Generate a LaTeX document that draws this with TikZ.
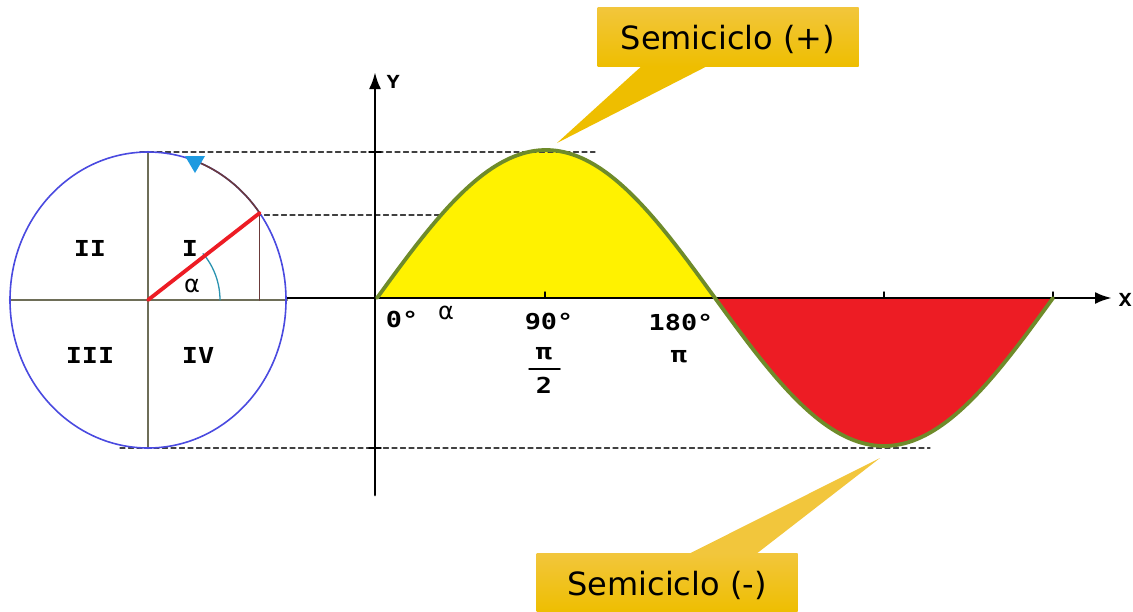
\documentclass[tikz,border=0pt]{standalone}
\usepackage{fontspec}
\setmainfont{DejaVu Sans}
\newfontfamily\monofont[FakeStretch=1.22]{DejaVu Sans Mono}
\usetikzlibrary{arrows.meta,calc,positioning}
\definecolor{semiYellow}{HTML}{FFF200}
\definecolor{semiRed}{HTML}{ED1C24}
\definecolor{waveLine}{HTML}{6E8B2A}
\definecolor{circBlue}{HTML}{4A4AE0}
\definecolor{crossLine}{HTML}{6E6E58}
\definecolor{rodBrown}{HTML}{6B3A3A}
\definecolor{angTeal}{HTML}{2A93B0}
\definecolor{tipBlue}{HTML}{1E9AE0}
\definecolor{calloutTop}{HTML}{F2C63C}
\definecolor{calloutBot}{HTML}{EEBE00}
\begin{document}
\begin{tikzpicture}[x=1pt,y=-1pt,>=Latex,line cap=round,line join=round]
\useasboundingbox[fill=white] (0,0) rectangle (1133,611);
\tikzset{axis/.style={draw=black,line width=2.8pt},guide/.style={draw=black!75,line width=1.1pt,dash pattern=on 5pt off 3.5pt},lbl/.style={font=\monofont\bfseries\fontsize{22}{22}\selectfont,inner sep=0pt},greek/.style={font=\fontsize{24}{24}\selectfont,inner sep=0pt},callout/.style={top color=calloutTop,bottom color=calloutBot,draw=none,font=\fontsize{32}{32}\selectfont,minimum width=261pt,inner ysep=0pt,minimum height=59pt,text depth=0pt}}
% filled half waves
\fill[semiYellow] (377,298) -- plot[domain=0:180,samples=80] ({377+\x*1.8778},{298-148*sin(\x)}) -- cycle;
\fill[semiRed] (715,298) -- plot[domain=180:360,samples=80] ({377+\x*1.8778},{298-148*sin(\x)}) -- cycle;
% guide lines
\draw[guide] (140,152) -- (595,152);
\draw[guide] (256,215) -- (440,215);
\draw[guide] (120,448) -- (930,448);
% axes
\draw[axis,-{Latex[length=17pt,width=12pt]}] (375,495) -- (375,72);
\draw[axis,-{Latex[length=17pt,width=12pt]}] (287,298) -- (1112,298);
\node[font=\monofont\bfseries\fontsize{18}{18}\selectfont,anchor=west] (ylab) at (383,82) {Y};
\node[font=\monofont\bfseries\fontsize{18}{18}\selectfont,anchor=west] (xlab) at (1115,300) {X};
\foreach \ty in {152,448} \draw[line width=1.4pt] (369,\ty) -- (381,\ty);
\foreach \tx in {545,884,1053} \draw[line width=1.4pt] (\tx,292) -- (\tx,298);
% sine wave
\draw[waveLine,line width=3.8pt] plot[domain=0:360,samples=160] ({377+\x*1.8778},{298-148*sin(\x)});
% axis labels
\node[lbl] (deg0) at (402,319) {0°};
\node[greek] (alpha) at (446,313) {α};
\node[lbl] (deg90) at (549,322) {90°};
\node[lbl] (deg180) at (681,322) {180°};
\node[lbl] (pinum) at (544,354) {π};
\node[lbl] (piden) at (544,385) {2};
\draw[line width=1.5pt] (529,369) -- (560,369);
\node[lbl] (pi) at (679,357) {π};
% unit circle
\coordinate (O) at (148,300);
\coordinate (P) at ($(O)+(-36:138 and 148)$);
\draw[crossLine,line width=2.6pt] (10,300) -- (287,300);
\draw[crossLine,line width=2.6pt] (148,152) -- (148,448);
\draw[circBlue,line width=1.6pt] (O) ellipse [x radius=138,y radius=148];
\draw[rodBrown,line width=1.6pt] (P) -- (P |- O);
\draw[angTeal,line width=1.3pt] ($(O)+(72,0)$) arc[start angle=0,end angle=-40,radius=72];
\draw[rodBrown,line width=1.6pt] (P) arc[start angle=-36,end angle=-70,x radius=138,y radius=148];
\fill[tipBlue] (185,156) -- (205,156) -- (195,173) -- cycle;
\draw[semiRed,line width=3.8pt] (O) -- (P);
\node[lbl] (q1) at (190,248) {I};
\node[lbl] (q2) at (90,248) {II};
\node[lbl] (q3) at (90,355) {III};
\node[lbl] (q4) at (198,355) {IV};
\node[greek] (alphaC) at (192,286) {α};
% callouts
\node[callout] (cplus) at (728,37) {Semiciclo (+)};
\node[callout] (cminus) at (667,583) {Semiciclo (-)};
\coordinate (tipplus) at (557,143);
\coordinate (tipminus) at (880,458);
\fill[calloutBot] ([xshift=-87pt]cplus.south) -- (tipplus) -- ([xshift=-22pt]cplus.south) -- cycle;
\fill[calloutTop] ([xshift=23pt]cminus.north) -- (tipminus) -- ([xshift=90pt]cminus.north) -- cycle;
\end{tikzpicture}
\end{document}
